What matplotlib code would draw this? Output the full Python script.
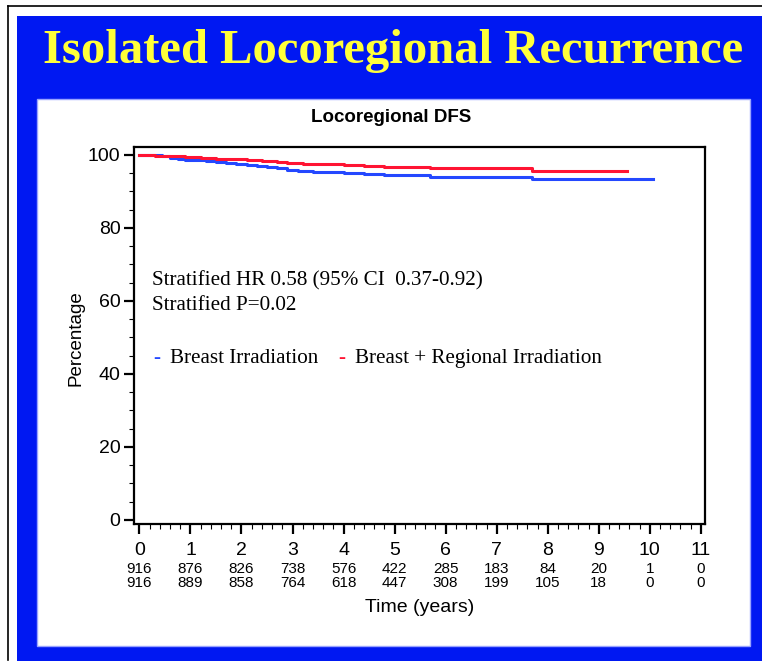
import matplotlib.pyplot as plt
from matplotlib.patches import Rectangle
from matplotlib.lines import Line2D
from matplotlib.ticker import MultipleLocator

# Kaplan-Meier steps (time in years, percentage)
t_breast = [0, 0.45, 0.6, 0.75, 0.9, 1.1, 1.3, 1.5, 1.7, 1.9, 2.1, 2.3, 2.5, 2.7, 2.9,
            3.1, 3.4, 3.7, 4.0, 4.4, 4.8, 5.3, 5.7, 7.7, 10.06]
s_breast = [100, 99.7, 99.3, 99.0, 98.7, 98.5, 98.3, 98.1, 97.8, 97.5, 97.2, 97.0, 96.7, 96.4, 96.0,
            95.7, 95.4, 95.2, 95.0, 94.8, 94.6, 94.4, 94.05, 93.3, 93.3]
t_regional = [0, 0.3, 0.6, 0.9, 1.2, 1.5, 1.8, 2.1, 2.4, 2.7, 2.9, 3.2, 3.6, 4.0, 4.4,
              4.8, 5.3, 5.7, 7.7, 9.55]
s_regional = [100, 99.8, 99.6, 99.4, 99.2, 99.0, 98.8, 98.6, 98.4, 98.2, 97.9, 97.6, 97.4, 97.2, 97.0,
              96.8, 96.6, 96.35, 95.7, 95.7]

years = list(range(12))
risk_breast = [916, 876, 826, 738, 576, 422, 285, 183, 84, 20, 1, 0]
risk_regional = [916, 889, 858, 764, 618, 447, 308, 199, 105, 18, 0, 0]

W, H = 762, 667
BLUE_BG = '#0018f2'
C_BLUE = '#2448ff'
C_RED = '#ff1433'

fig = plt.figure(figsize=(W / 100, H / 100), dpi=100)
fig.patch.set_facecolor('white')

def px(x, y):
    # pixel (from top-left) -> figure fraction
    return x / W, 1 - y / H

# frame, blue slide background, white panel (behind the axes)
fig.add_artist(Line2D([8 / W, 8 / W], [1 - 6 / H, 1 - 660 / H], color='black', lw=1.2, zorder=-3))
fig.add_artist(Line2D([8 / W, 1], [1 - 6 / H, 1 - 6 / H], color='black', lw=1.2, zorder=-3))
fig.add_artist(Rectangle(px(17, 661), (W - 17) / W, (661 - 16) / H, facecolor=BLUE_BG,
                         edgecolor='none', zorder=-2))
fig.add_artist(Rectangle(px(37, 646), (750 - 37) / W, (646 - 99) / H, facecolor='white',
                         edgecolor='#9aa4ff', lw=1, zorder=-1))

fig.text(*px(393, 51), 'Isolated Locoregional Recurrence', family='Liberation Serif',
         weight='bold', size=35, color='#ffff3a', ha='center', va='center')

# plot area
x0, x1, y0, y1 = 134.3, 705, 147.3, 524
ax = fig.add_axes([x0 / W, 1 - y1 / H, (x1 - x0) / W, (y1 - y0) / H])
ax.patch.set_alpha(0)
ax.step(t_breast, s_breast, where='post', color=C_BLUE, lw=2.2)
ax.step(t_regional, s_regional, where='post', color=C_RED, lw=2.2)
ax.set_xlim(-0.1, 11.08)
ax.set_ylim(-1.1, 102.1)

for s in ax.spines.values():
    s.set_linewidth(1.6)
ax.xaxis.set_major_locator(MultipleLocator(1))
ax.xaxis.set_minor_locator(MultipleLocator(0.2))
ax.yaxis.set_major_locator(MultipleLocator(20))
ax.yaxis.set_minor_locator(MultipleLocator(5))
ax.tick_params(which='major', direction='out', length=7, width=1.6, labelsize=14,
               labelfontfamily='Liberation Sans')
ax.tick_params(which='minor', direction='out', length=3.5, width=0.8)
ax.tick_params(axis='x', which='major', pad=6)
ax.tick_params(axis='y', which='major', pad=3)

fig.text(*px(391, 118), 'Locoregional DFS', family='Liberation Sans', weight='bold',
         size=13.5, ha='center', va='center')
fig.text(*px(76, 338), 'Percentage', family='Liberation Sans', size=13.5, rotation=90,
         ha='center', va='center')
fig.text(*px(420, 607), 'Time (years)', family='Liberation Sans', size=14,
         ha='center', va='center')

# numbers at risk
tr = ax.get_xaxis_transform()
for yr, a, b in zip(years, risk_breast, risk_regional):
    ax.text(yr, (y1 - 569) / (y1 - y0), str(a), transform=tr, ha='center', va='center',
            size=11, family=['Liberation Sans Narrow', 'Liberation Sans'])
    ax.text(yr, (y1 - 583) / (y1 - y0), str(b), transform=tr, ha='center', va='center',
            size=11, family=['Liberation Sans Narrow', 'Liberation Sans'])

# annotation and legend
serif = 'Liberation Serif'
fs = 15.2
fig.text(*px(152, 281), 'Stratified HR 0.58 (95% CI  0.37-0.92)', family=serif, size=fs,
         va='center')
fig.text(*px(152, 306), 'Stratified P=0.02', family=serif, size=fs, va='center')
fig.text(*px(153, 358), '-', family=serif, size=fs, va='center', color=C_BLUE)
fig.text(*px(170, 358), 'Breast Irradiation', family=serif, size=fs, va='center')
fig.text(*px(338, 358), '-', family=serif, size=fs, va='center', color=C_RED)
fig.text(*px(355, 358), 'Breast + Regional Irradiation', family=serif, size=fs, va='center')

fig.savefig('out.png', dpi=100, facecolor='white')
